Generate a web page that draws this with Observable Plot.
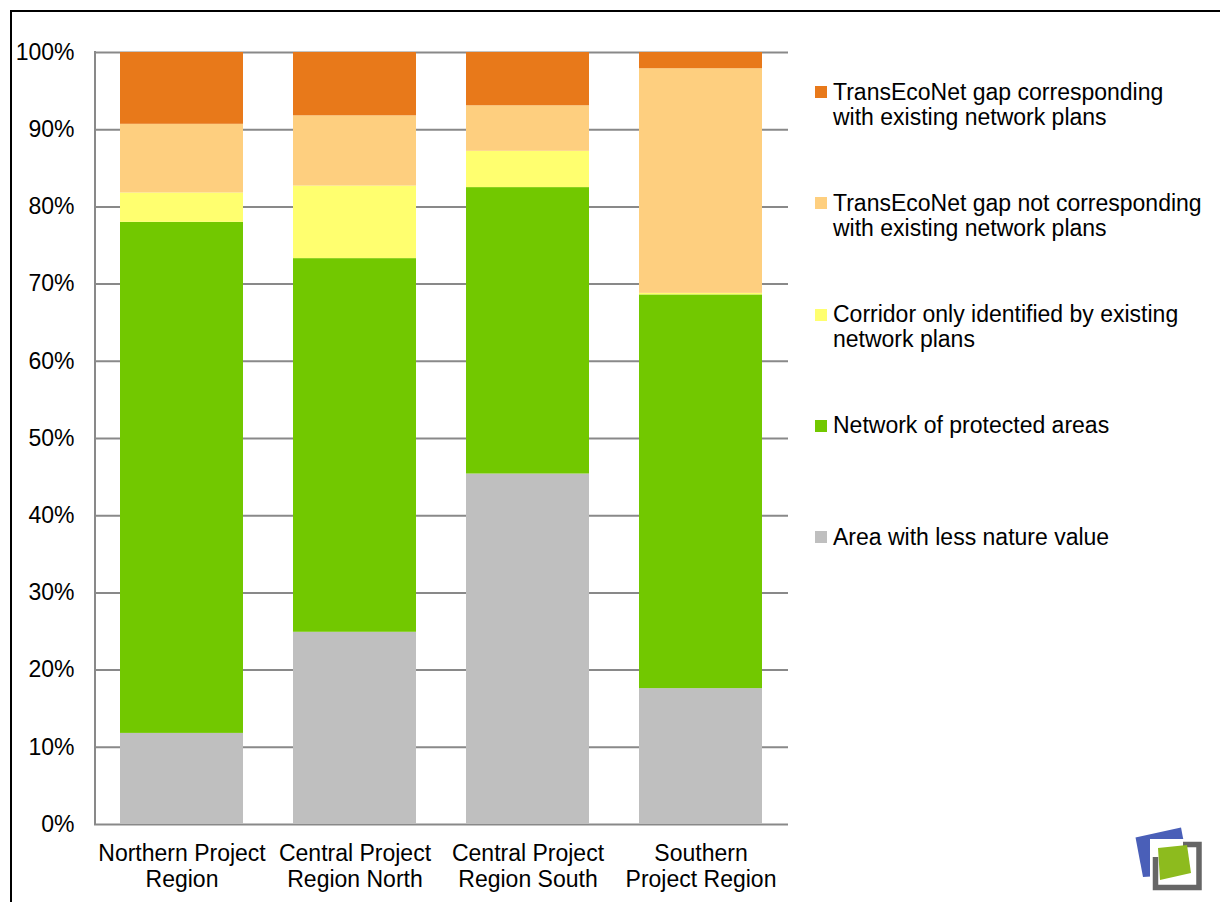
<!DOCTYPE html>
<html>
<head>
<meta charset="utf-8">
<script src="https://cdn.jsdelivr.net/npm/d3@7"></script>
<script src="https://cdn.jsdelivr.net/npm/@observablehq/plot@0.6"></script>
<style>
  html, body { margin: 0; padding: 0; background: #fff; }
  #wrap { position: relative; width: 1220px; height: 902px; overflow: hidden; font-family: "Liberation Sans", Arial, sans-serif; }
  #frame { position: absolute; left: 10px; top: 10px; width: 1300px; height: 1000px; border-left: 2.5px solid #000; border-top: 2.5px solid #000; }
  #chart { position: absolute; left: 0; top: 0; }
  .leg { position: absolute; left: 815px; display: flex; align-items: flex-start; font-size: 23px; line-height: 25px; color: #000; }
  .leg .sw { width: 12px; height: 12px; margin-top: 6.5px; margin-right: 6px; flex: none; }
  .leg .tx { white-space: pre; }
  #logo { position: absolute; left: 1100px; top: 780px; }
</style>
</head>
<body>
<div id="wrap">
  <div id="frame"></div>
  <div id="chart"></div>
  <div id="legend"></div>
  <svg id="logo" width="120" height="122" viewBox="1100 780 120 122">
    <polygon points="1135.5,837.5 1181,827.5 1190,874 1143,877" fill="#4a5fb8"/>
    <rect x="1150" y="839" width="54" height="54" fill="#fff"/>
    <path d="M1155.5,857 V887.5 H1199 V844.5 H1183" fill="none" stroke="#666" stroke-width="5.5"/>
    <polygon points="1158,848 1187,845 1191,873 1160,880" fill="#8dbb1e"/>
  </svg>
</div>
<script>
// ---- data (percent of region area) ----
const regions = [
  "Northern Project Region",
  "Central Project Region North",
  "Central Project Region South",
  "Southern Project Region"
];
const regionLabels = [
  "Northern Project\nRegion",
  "Central Project\nRegion North",
  "Central Project\nRegion South",
  "Southern\nProject Region"
];
// stacking order: bottom to top
const series = [
  "Area with less nature value",
  "Network of protected areas",
  "Corridor only identified by existing network plans",
  "TransEcoNet gap not corresponding with existing network plans",
  "TransEcoNet gap corresponding with existing network plans"
];
const seriesLegendLabels = [
  "Area with less nature value",
  "Network of protected areas",
  "Corridor only identified by existing\nnetwork plans",
  "TransEcoNet gap not corresponding\nwith existing network plans",
  "TransEcoNet gap corresponding\nwith existing network plans"
];
const seriesColors = ["#bfbfbf", "#72c800", "#ffff6f", "#fecf7f", "#e8791a"];

const lessNatureValue     = [11.8, 24.9, 45.4, 17.6];
const protectedAreas      = [66.2, 48.4, 37.1, 51.0];
const corridorPlansOnly   = [3.8, 9.4, 4.7, 0.2];
const gapNotCorresponding = [8.9, 9.1, 5.9, 29.1];
const gapCorresponding    = [9.3, 8.2, 6.9, 2.1];

const yTicks = [0, 10, 20, 30, 40, 50, 60, 70, 80, 90, 100];

// ---- build table ----
const seriesValues = [lessNatureValue, protectedAreas, corridorPlansOnly, gapNotCorresponding, gapCorresponding];
const table = [];
series.forEach((s, si) => {
  regions.forEach((r, ri) => {
    table.push({ region: r, series: s, value: seriesValues[si][ri] });
  });
});
const labelOf = new Map(regions.map((r, i) => [r, regionLabels[i]]));

const font = "'Liberation Sans', Arial, sans-serif";

const chart = Plot.plot({
  width: 1220,
  height: 902,
  marginLeft: 94,
  marginRight: 432,
  marginTop: 52,
  marginBottom: 78,
  style: { fontFamily: font, color: "#000", background: "transparent" },
  x: { domain: regions, paddingInner: 0.288, paddingOuter: 0.14, label: null },
  y: { domain: [0, 100], label: null },
  color: { domain: series, range: seriesColors },
  marks: [
    Plot.ruleY(yTicks, { stroke: "#898989", strokeWidth: 2 }),
    Plot.barY(table, Plot.stackY({ x: "region", y: "value", fill: "series", order: null })),
    Plot.axisY({
      ticks: yTicks,
      tickFormat: d => d + "%",
      tickSize: 0,
      tickPadding: 20,
      fontSize: 23,
      label: null
    }),
    Plot.axisX({
      tickFormat: d => labelOf.get(d),
      tickSize: 0,
      tickPadding: 18,
      fontSize: 23,
      lineHeight: 1.13,
      label: null
    })
  ]
});
document.getElementById("chart").appendChild(chart);

// vertical axis line at the left edge of the plot area
const svg = d3.select(chart);
svg.append("line")
  .attr("x1", 95).attr("x2", 95)
  .attr("y1", 51).attr("y2", 825)
  .attr("stroke", "#898989").attr("stroke-width", 2);

// ---- legend (top to bottom = reverse stack order) ----
const legend = document.getElementById("legend");
const order = series.map((s, i) => i).reverse();
order.forEach((si, k) => {
  const item = document.createElement("div");
  item.className = "leg";
  item.style.top = (79.5 + k * 111.3) + "px";
  const sw = document.createElement("div");
  sw.className = "sw";
  sw.style.background = seriesColors[si];
  const tx = document.createElement("div");
  tx.className = "tx";
  tx.textContent = seriesLegendLabels[si];
  item.appendChild(sw);
  item.appendChild(tx);
  legend.appendChild(item);
});
</script>
</body>
</html>
